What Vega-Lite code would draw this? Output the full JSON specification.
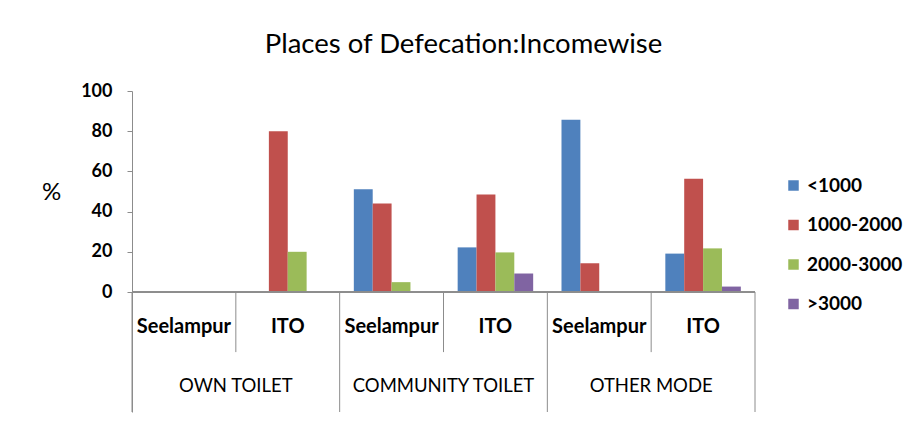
{
  "$schema": "https://vega.github.io/schema/vega-lite/v6.json",
  "width": 623,
  "height": 321,
  "autosize": {"type": "none"},
  "padding": {"left": 132, "top": 91, "right": 153, "bottom": 9},
  "background": "white",
  "config": {
    "view": {"stroke": null},
    "font": "Lato",
    "legend": {"padding": 0}
  },
  "title": {
    "text": "Places of Defecation:Incomewise",
    "font": "Lato",
    "fontSize": 27.5,
    "fontWeight": "normal",
    "color": "#000000",
    "anchor": "middle",
    "frame": "group",
    "dx": 20,
    "offset": 24
  },
  "datasets": {
    "cats": [
      {"cat": "OWN TOILET|Seelampur", "group": "OWN TOILET", "site": "Seelampur"},
      {"cat": "OWN TOILET|ITO", "group": "OWN TOILET", "site": "ITO"},
      {"cat": "COMMUNITY TOILET|Seelampur", "group": "COMMUNITY TOILET", "site": "Seelampur"},
      {"cat": "COMMUNITY TOILET|ITO", "group": "COMMUNITY TOILET", "site": "ITO"},
      {"cat": "OTHER MODE|Seelampur", "group": "OTHER MODE", "site": "Seelampur"},
      {"cat": "OTHER MODE|ITO", "group": "OTHER MODE", "site": "ITO"}
    ],
    "bars": [
      {"cat": "OWN TOILET|ITO", "income": "1000-2000", "pct": 80},
      {"cat": "OWN TOILET|ITO", "income": "2000-3000", "pct": 20},
      {"cat": "COMMUNITY TOILET|Seelampur", "income": "<1000", "pct": 51.1},
      {"cat": "COMMUNITY TOILET|Seelampur", "income": "1000-2000", "pct": 44},
      {"cat": "COMMUNITY TOILET|Seelampur", "income": "2000-3000", "pct": 4.9},
      {"cat": "COMMUNITY TOILET|ITO", "income": "<1000", "pct": 22.2},
      {"cat": "COMMUNITY TOILET|ITO", "income": "1000-2000", "pct": 48.5},
      {"cat": "COMMUNITY TOILET|ITO", "income": "2000-3000", "pct": 19.7},
      {"cat": "COMMUNITY TOILET|ITO", "income": ">3000", "pct": 9.2},
      {"cat": "OTHER MODE|Seelampur", "income": "<1000", "pct": 85.7},
      {"cat": "OTHER MODE|Seelampur", "income": "1000-2000", "pct": 14.3},
      {"cat": "OTHER MODE|ITO", "income": "<1000", "pct": 19.1},
      {"cat": "OTHER MODE|ITO", "income": "1000-2000", "pct": 56.3},
      {"cat": "OTHER MODE|ITO", "income": "2000-3000", "pct": 21.7},
      {"cat": "OTHER MODE|ITO", "income": ">3000", "pct": 2.7}
    ]
  },
  "encoding": {
    "x": {
      "field": "cat",
      "type": "nominal",
      "sort": null,
      "scale": {
        "domain": ["OWN TOILET|Seelampur", "OWN TOILET|ITO", "COMMUNITY TOILET|Seelampur", "COMMUNITY TOILET|ITO", "OTHER MODE|Seelampur", "OTHER MODE|ITO"],
        "paddingInner": 0,
        "paddingOuter": 0
      },
      "axis": null
    }
  },
  "layer": [
    {
      "data": {"name": "bars"},
      "mark": {"type": "bar"},
      "encoding": {
        "xOffset": {
          "field": "income",
          "type": "nominal",
          "scale": {"domain": ["<1000", "1000-2000", "2000-3000", ">3000"], "paddingInner": 0, "paddingOuter": 0.75}
        },
        "y": {
          "field": "pct",
          "type": "quantitative",
          "scale": {"domain": [-59.7, 100], "nice": false, "zero": false},
          "axis": {
            "values": [0, 20, 40, 60, 80, 100],
            "grid": false,
            "domain": true,
            "domainColor": "#8c8c8c",
            "tickColor": "#8c8c8c",
            "tickSize": 5,
            "labelFont": "Lato",
            "labelFontSize": 18,
            "labelFontWeight": "bold",
            "labelColor": "#000000",
            "labelPadding": 15,
            "title": "%",
            "titleFont": "Lato",
            "titleFontSize": 24,
            "titleFontWeight": "normal",
            "titleColor": "#000000",
            "titleAngle": 0,
            "titleAlign": "center",
            "titleBaseline": "middle",
            "titleX": -81,
            "titleY": 101
          }
        },
        "color": {
          "field": "income",
          "type": "nominal",
          "scale": {
            "domain": ["<1000", "1000-2000", "2000-3000", ">3000"],
            "range": ["#4f81bd", "#c0504d", "#9bbb59", "#8064a2"]
          },
          "legend": {
            "title": null,
            "orient": "none",
            "legendX": 652,
            "legendY": 85,
            "symbolType": "square",
            "symbolSize": 110,
            "symbolStrokeWidth": 0,
            "symbolOpacity": 1,
            "labelFont": "Lato",
            "labelFontSize": 19,
            "labelFontWeight": "bold",
            "labelColor": "#000000",
            "labelOffset": 4,
            "rowPadding": 19.5
          }
        }
      }
    },
    {
      "data": {"name": "cats"},
      "mark": {"type": "rule", "color": "#8c8c8c", "strokeWidth": 1},
      "encoding": {"y": {"datum": 0}, "x": null}
    },
    {
      "data": {"name": "cats"},
      "transform": [{"filter": "datum.site === 'Seelampur'"}],
      "mark": {"type": "rule", "color": "#8c8c8c", "strokeWidth": 1},
      "encoding": {
        "x": {"field": "cat", "type": "nominal", "bandPosition": 0},
        "y": {"datum": 0},
        "y2": {"datum": -59.7}
      }
    },
    {
      "data": {"name": "cats"},
      "transform": [{"filter": "datum.site === 'ITO'"}],
      "mark": {"type": "rule", "color": "#8c8c8c", "strokeWidth": 1},
      "encoding": {
        "x": {"field": "cat", "type": "nominal", "bandPosition": 0},
        "y": {"datum": 0},
        "y2": {"datum": -29.9}
      }
    },
    {
      "data": {"name": "cats"},
      "transform": [{"filter": "datum.cat === 'OTHER MODE|ITO'"}],
      "mark": {"type": "rule", "color": "#8c8c8c", "strokeWidth": 1},
      "encoding": {
        "x": {"field": "cat", "type": "nominal", "bandPosition": 1},
        "y": {"datum": 0},
        "y2": {"datum": -59.7}
      }
    },
    {
      "data": {"name": "cats"},
      "mark": {"type": "text", "font": "Lato", "fontSize": 20, "fontWeight": "bold", "color": "#000000", "baseline": "middle"},
      "encoding": {
        "y": {"datum": -17.2},
        "text": {"field": "site"}
      }
    },
    {
      "data": {"name": "cats"},
      "transform": [{"filter": "datum.site === 'Seelampur'"}],
      "mark": {"type": "text", "font": "Lato", "fontSize": 18.5, "fontWeight": "normal", "color": "#000000", "baseline": "middle"},
      "encoding": {
        "x": {"field": "cat", "type": "nominal", "bandPosition": 1},
        "y": {"datum": -46.8},
        "text": {"field": "group"}
      }
    }
  ]
}
